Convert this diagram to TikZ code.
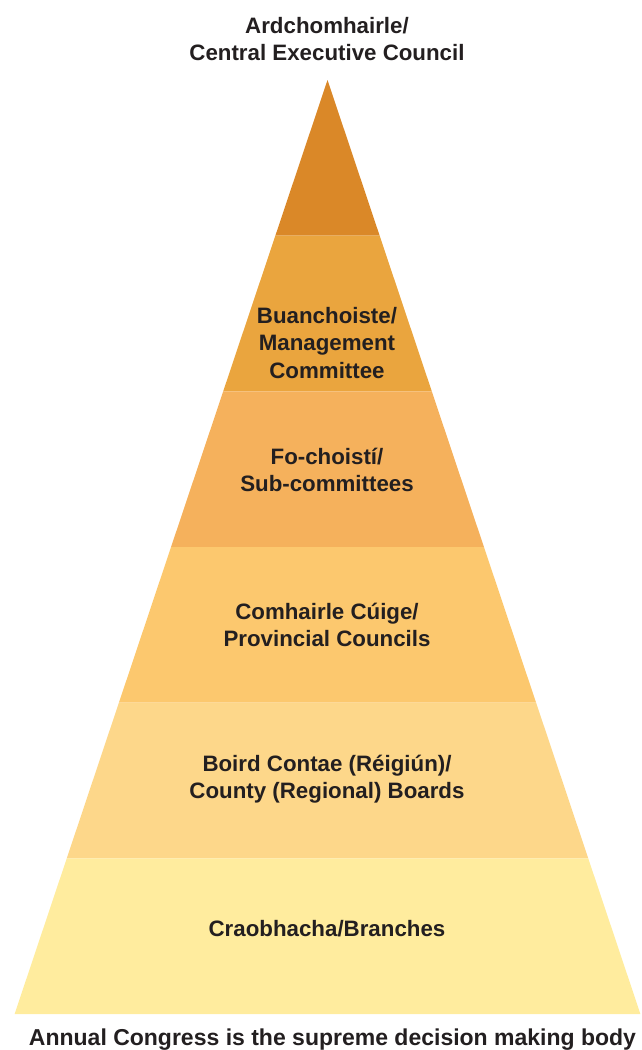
\documentclass[tikz,border=0pt]{standalone}
\usepackage{fontspec}
\setmainfont{Liberation Sans}
\definecolor{tierA}{HTML}{DA8828}
\definecolor{tierB}{HTML}{EAA53E}
\definecolor{tierC}{HTML}{F5B15C}
\definecolor{tierD}{HTML}{FCC86E}
\definecolor{tierE}{HTML}{FDD78A}
\definecolor{tierF}{HTML}{FFEC9E}
\definecolor{inkgray}{HTML}{231F20}

\begin{document}
\begin{tikzpicture}[x=1pt,y=-1pt,
  tier label/.style={font=\bfseries\fontsize{22.3}{27.5}\selectfont,text=inkgray,align=center}]
  \useasboundingbox (0,0) rectangle (642,1050);

  % pyramid tiers, top to bottom
  \foreach \i/\c in {0/tierA,1/tierB,2/tierC,3/tierD,4/tierE,5/tierF}{
    \pgfmathsetmacro\ytop{80+155.67*\i}
    \pgfmathsetmacro\ybot{80+155.67*(\i+1)}
    \fill[\c] ({327.5-0.335*(\ytop-80)},\ytop) -- ({327.5+0.335*(\ytop-80)},\ytop)
      -- ({327.5+0.335*(\ybot-80)},\ybot) -- ({327.5-0.335*(\ybot-80)},\ybot) -- cycle;
  }

  \node[tier label] (council) at (327,39) {Ardchomhairle/\\Central Executive Council};
  \node[tier label] (mgmt) at (327,343) {Buanchoiste/\\Management\\Committee};
  \node[tier label] (subcom) at (327,470) {Fo-choistí/\\Sub-committees};
  \node[tier label] (prov) at (327,625) {Comhairle Cúige/\\Provincial Councils};
  \node[tier label] (county) at (327,779) {Boird Contae (Réigiún)/\\County (Regional) Boards};
  \node[tier label] (branch) at (327,929) {Craobhacha/Branches};
  \node[tier label,font=\bfseries\fontsize{23}{27.5}\selectfont] (congress) at (332.5,1040)
    {Annual Congress is the supreme decision making body};
\end{tikzpicture}
\end{document}
